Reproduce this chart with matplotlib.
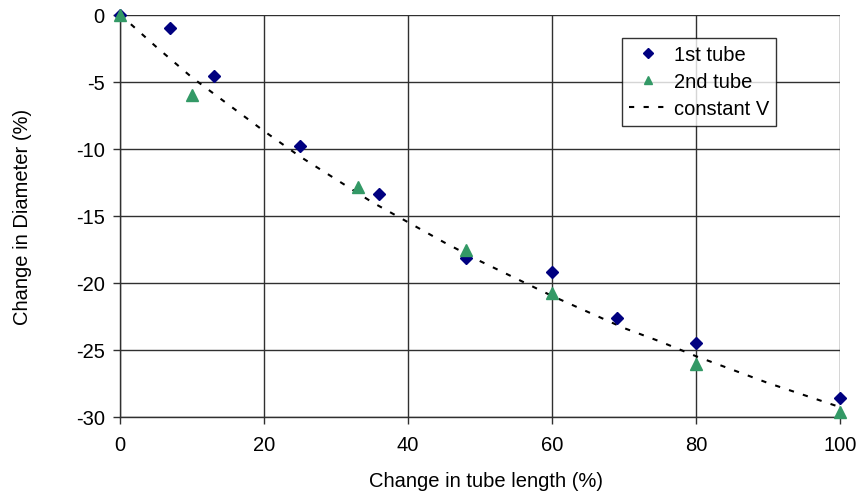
import matplotlib
matplotlib.use("Agg")
import matplotlib.pyplot as plt

plt.rcParams['font.family'] = ['Liberation Sans', 'DejaVu Sans']
plt.rcParams['axes.unicode_minus'] = False

# Measured diameter change vs. length change for two tubes
tube1_length = [0, 7, 13, 25, 36, 48, 60, 69, 80, 100]
tube1_diam = [0, -1.0, -4.6, -9.8, -13.4, -18.2, -19.2, -22.65, -24.5, -28.6]

tube2_length = [0, 10, 33, 48, 60, 80, 100]
tube2_diam = [0, -6.0, -12.9, -17.6, -20.8, -26.1, -29.7]

# Constant-volume reference curve
constv_length = [0, 5, 10, 15, 20, 25, 30, 35, 40, 45, 50,
                 55, 60, 65, 70, 75, 80, 85, 90, 95, 100]
constv_diam = [0, -2.4, -4.7, -6.7, -8.7, -10.6, -12.3, -14.0, -15.5, -17.0, -18.4,
               -19.7, -21.0, -22.2, -23.4, -24.4, -25.5, -26.5, -27.5, -28.4, -29.3]

x_ticks = [0, 20, 40, 60, 80, 100]
y_ticks = [0, -5, -10, -15, -20, -25, -30]

FS = 14.5

fig = plt.figure(figsize=(8.58, 5.02), dpi=100)
ax = fig.add_axes([120 / 858, 1 - 417.5 / 502, 720 / 858, 402 / 502])

ax.plot(constv_length, constv_diam, color='black', lw=1.5,
        linestyle=(0, (2.5, 4.5)), label='constant V', zorder=3)
ax.plot(tube1_length, tube1_diam, linestyle='none', marker='D', ms=6.5,
        color='#000080', label='1st tube', zorder=4, clip_on=False)
ax.plot(tube2_length, tube2_diam, linestyle='none', marker='^', ms=8,
        color='#339966', label='2nd tube', zorder=4, clip_on=False)

ax.set_xlim(0, 100)
ax.set_ylim(-30, 0)
ax.set_xticks(x_ticks)
ax.set_yticks(y_ticks)
ax.grid(True, color='#303030', lw=1)
ax.set_axisbelow(True)

for side in ('top', 'right'):
    ax.spines[side].set_visible(False)
for side in ('left', 'bottom'):
    ax.spines[side].set_color('#303030')
    ax.spines[side].set_linewidth(1)

ax.tick_params(direction='out', length=5, width=1, color='#303030',
               labelsize=FS)
ax.tick_params(axis='x', pad=8)
ax.tick_params(axis='y', pad=6)

fig.text(486 / 858, 1 - 482 / 502, 'Change in tube length (%)', fontsize=FS,
         ha='center', va='center')
fig.text(23 / 858, 1 - 216.5 / 502, 'Change in Diameter (%)', fontsize=FS,
         ha='center', va='center', rotation=90)

handles, labels = ax.get_legend_handles_labels()
order = [1, 2, 0]
leg = ax.legend([handles[i] for i in order], [labels[i] for i in order],
                loc='upper left', bbox_to_anchor=((621.7 - 120) / 720, (417.5 - 39.3) / 402),
                frameon=True, fancybox=False, fontsize=FS, handlelength=1.9,
                borderpad=0.35, labelspacing=0.4, handletextpad=0.35,
                borderaxespad=0)
leg.get_frame().set_edgecolor('black')
leg.get_frame().set_linewidth(1)
leg.legend_handles[0].set_markersize(5)
leg.legend_handles[1].set_markersize(6)

fig.savefig('out.png', dpi=100, facecolor='white')
